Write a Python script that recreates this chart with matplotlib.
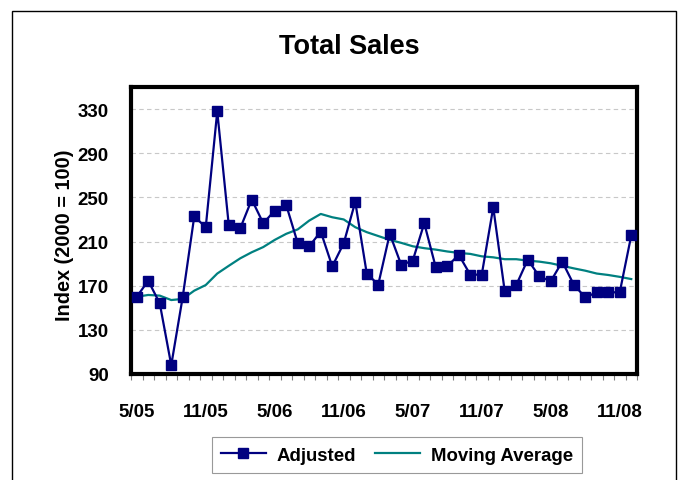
import matplotlib
matplotlib.use("Agg")
import matplotlib.pyplot as plt
from matplotlib.patches import Rectangle
import numpy as np

plt.rcParams['font.family'] = ['Liberation Sans', 'DejaVu Sans']

months = ["5/05","6/05","7/05","8/05","9/05","10/05","11/05","12/05",
          "1/06","2/06","3/06","4/06","5/06","6/06","7/06","8/06","9/06","10/06","11/06","12/06",
          "1/07","2/07","3/07","4/07","5/07","6/07","7/07","8/07","9/07","10/07","11/07","12/07",
          "1/08","2/08","3/08","4/08","5/08","6/08","7/08","8/08","9/08","10/08","11/08","12/08"]

adjusted = [160, 174.5, 154, 98, 160, 232.7, 223, 328, 225, 222, 248, 226.6, 238, 243,
            208.5, 205.7, 219, 187.5, 208.5, 246, 181, 171, 217, 188.8, 192.7, 226.6,
            186.7, 187.5, 198, 180, 180, 241, 164.8, 170.6, 193.6, 178.5, 174, 191.8,
            171, 159.4, 164, 164, 164, 215.5]

moving_avg = [160, 161.6, 161, 157, 158, 165.5, 170.6, 181, 188, 194.8, 200.3, 205,
              211.5, 217, 221, 229, 235, 232, 230, 223, 218.5, 215, 211.5, 208.8, 205.7,
              204, 202.7, 201, 199.7, 198.8, 196.6, 195.7, 194, 194, 192.7, 191.8, 190.3,
              188, 185.7, 183.6, 181, 179.7, 178, 176]

yticks = [90, 130, 170, 210, 250, 290, 330]
label_every = 6

W, H = 681, 481
fig = plt.figure(figsize=(W/100, H/100), dpi=100)

# outer chart border
fig.patches.append(Rectangle((12/W, -0.02), (676-12)/W, (481-12)/H + 0.02,
                             transform=fig.transFigure, fill=False,
                             edgecolor='black', linewidth=1.0))

ax = fig.add_axes([131/W, 1-375/H, (637-131)/W, (375-88)/H])
x = np.arange(len(months))

ax.plot(x, adjusted, color='#000080', linewidth=1.6, marker='s', markersize=6.5,
        markerfacecolor='#000080', markeredgecolor='#000080', label='Adjusted', zorder=3)
ax.plot(x, moving_avg, color='#008080', linewidth=1.6, label='Moving Average', zorder=2)

ax.set_xlim(-0.5, len(months) - 0.5)
ax.set_ylim(90, 350)

ax.set_yticks(yticks)
ax.set_yticklabels([str(v) for v in yticks], fontsize=13.5, fontweight='bold')
ax.tick_params(axis='y', length=0, pad=16)
ax.yaxis.grid(True, color='#c8c8c8', linestyle=(0, (4, 3)), linewidth=0.8)
ax.set_axisbelow(True)

ax.set_xticks(x[::label_every])
ax.set_xticklabels(months[::label_every], fontsize=13.5, fontweight='bold')
ax.tick_params(axis='x', which='major', length=0, pad=21)
ax.set_xticks(np.arange(-0.5, len(months), 1.0), minor=True)
ax.tick_params(axis='x', which='minor', length=4, color='#808080', width=0.8, direction='out')

for s in ax.spines.values():
    s.set_linewidth(3)
    s.set_color('black')

fig.text(64/W, 1-235/H, 'Index (2000 = 100)', rotation=90, ha='center', va='center',
         fontsize=14.3, fontweight='bold')

fig.text(349/W, 1-47/H, 'Total Sales', ha='center', va='center',
         fontsize=19.5, fontweight='bold')

leg = fig.legend(loc='center', bbox_to_anchor=(397/W, 1-456/H), ncol=2,
                 frameon=True, fancybox=False, edgecolor='#808080',
                 prop={'weight': 'bold', 'size': 13.4}, handlelength=2.4,
                 handletextpad=0.6, columnspacing=1.0, borderpad=0.5)
leg.get_frame().set_linewidth(0.8)

fig.savefig('out.png', dpi=100)
